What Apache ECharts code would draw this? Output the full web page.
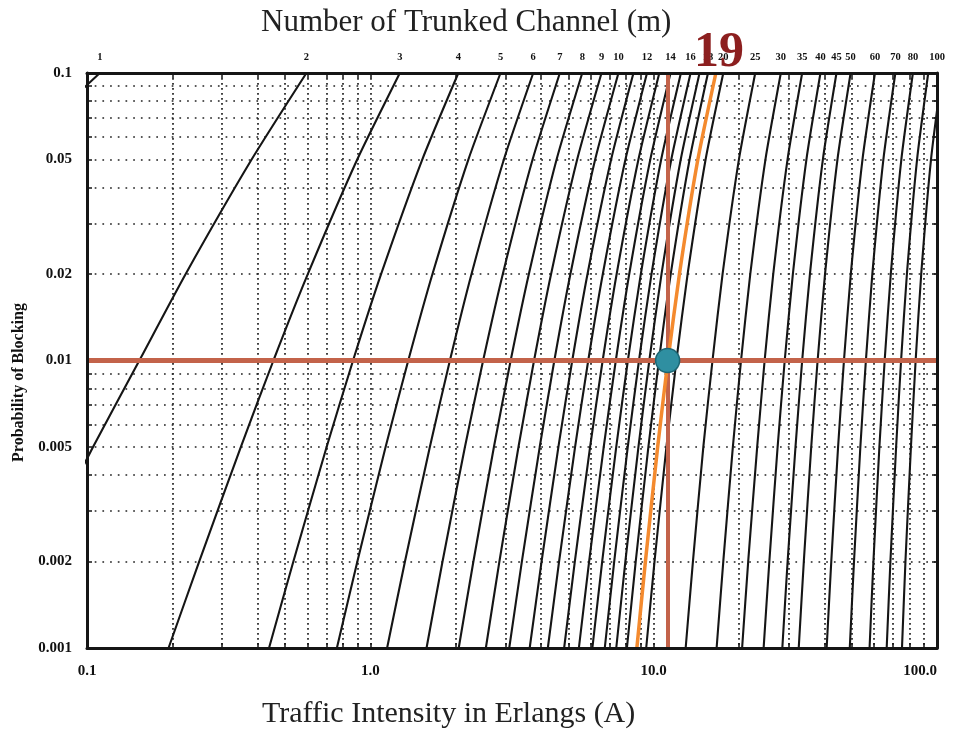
<!DOCTYPE html>
<html>
<head>
<meta charset="utf-8">
<script src="https://cdn.jsdelivr.net/npm/echarts@6/dist/echarts.min.js"></script>
<style>html,body{margin:0;padding:0;background:#fff}#c{width:953px;height:736px}</style>
</head>
<body>
<div id="c"></div>
<script>
// Blocking probabilities at which traffic values were read for every curve
const blockingProb = [0.001, 0.002, 0.005, 0.01, 0.02, 0.05, 0.1];

// Traffic intensity A (Erlangs) for each curve, read at blockingProb
const m1 = [0.001, 0.002, 0.00503, 0.0101, 0.0204, 0.0526, 0.111];
const m2 = [0.0458, 0.0653, 0.105, 0.153, 0.223, 0.381, 0.595];
const m3 = [0.194, 0.249, 0.349, 0.455, 0.602, 0.899, 1.271];
const m4 = [0.439, 0.535, 0.701, 0.869, 1.092, 1.525, 2.045];
const m5 = [0.762, 0.900, 1.132, 1.361, 1.657, 2.218, 2.881];
const m6 = [1.146, 1.325, 1.622, 1.909, 2.276, 2.960, 3.758];
const m7 = [1.579, 1.798, 2.157, 2.501, 2.935, 3.738, 4.666];
const m8 = [2.051, 2.311, 2.730, 3.128, 3.627, 4.543, 5.597];
const m9 = [2.557, 2.855, 3.333, 3.783, 4.345, 5.370, 6.546];
const m10 = [3.092, 3.427, 3.961, 4.461, 5.084, 6.216, 7.511];
const m11 = [3.651, 4.022, 4.610, 5.160, 5.842, 7.076, 8.487];
const m12 = [4.231, 4.637, 5.279, 5.876, 6.615, 7.950, 9.474];
const m13 = [4.831, 5.270, 5.964, 6.607, 7.402, 8.835, 10.47];
const m14 = [5.446, 5.919, 6.663, 7.352, 8.200, 9.730, 11.47];
const m15 = [6.077, 6.582, 7.376, 8.108, 9.010, 10.63, 12.48];
const m16 = [6.721, 7.258, 8.100, 8.875, 9.828, 11.54, 13.50];
const m17 = [7.378, 7.946, 8.834, 9.652, 10.66, 12.46, 14.52];
const m18 = [8.046, 8.644, 9.578, 10.44, 11.49, 13.39, 15.55];
const m19 = [8.724, 9.351, 10.33, 11.23, 12.33, 14.32, 16.58];
const m20 = [9.411, 10.07, 11.09, 12.03, 13.18, 15.25, 17.61];
const m25 = [12.97, 13.76, 14.97, 16.13, 17.51, 19.99, 22.83];
const m30 = [16.68, 17.61, 19.03, 20.34, 21.93, 24.80, 28.11];
const m35 = [20.52, 21.56, 23.19, 24.64, 26.43, 29.68, 33.43];
const m40 = [24.44, 25.60, 27.38, 29.01, 31.00, 34.60, 38.79];
const m45 = [28.45, 29.70, 31.66, 33.43, 35.61, 39.55, 44.18];
const m50 = [32.51, 33.88, 35.98, 37.90, 40.26, 44.53, 49.56];
const m60 = [40.79, 42.35, 44.76, 46.95, 49.64, 54.57, 60.40];
const m70 = [49.22, 50.94, 53.64, 56.11, 59.13, 64.67, 71.29];
const m80 = [57.81, 59.65, 62.61, 65.36, 68.70, 74.84, 82.21];
const m90 = [66.44, 68.48, 71.73, 74.68, 78.31, 85.04, 93.12];
const m100 = [75.24, 77.38, 80.91, 84.06, 87.97, 95.24, 104.1];

const channels = [1,2,3,4,5,6,7,8,9,10,11,12,13,14,15,16,17,18,19,20,25,30,35,40,45,50,60,70,80,90,100];
const curveTraffic = [m1,m2,m3,m4,m5,m6,m7,m8,m9,m10,m11,m12,m13,m14,m15,m16,m17,m18,m19,m20,m25,m30,m35,m40,m45,m50,m60,m70,m80,m90,m100];

// Top row of channel labels and where they sit along A
const topLabelText = ['1','2','3','4','5','6','7','8','9','10','12','14','16','18','20','25','30','35','40','45','50','60','70','80','90','100'];
const topLabelAt = [0.111,0.595,1.271,2.045,2.881,3.758,4.666,5.597,6.546,7.511,9.474,11.47,13.5,15.55,17.61,22.83,28.11,33.43,38.79,44.18,49.56,60.4,71.3,82.2,93.1,100];

// Axis tick labels
const xLabelValues = [0.1, 1, 10, 100];
const xLabelText = ['0.1', '1.0', '10.0', '100.0'];
const yLabelValues = [0.001, 0.002, 0.005, 0.01, 0.02, 0.05, 0.1];
const yLabelText = ['0.001', '0.002', '0.005', '0.01', '0.02', '0.05', '0.1'];

// Grid line positions
const gridX = [0.1,0.2,0.3,0.4,0.5,0.6,0.7,0.8,0.9,1,2,3,4,5,6,7,8,9,10,20,30,40,50,60,70,80,90,100];
const gridY = [0.001,0.002,0.003,0.004,0.005,0.006,0.007,0.008,0.009,0.01,0.02,0.03,0.04,0.05,0.06,0.07,0.08,0.09,0.1];

// Highlighted example
const highlightChannel = 19;
const operatingTraffic = 11.2;
const operatingBlocking = 0.01;

const serif = '"Liberation Serif", "DejaVu Serif", serif';
const ink = '#151515';
const orange = '#f48a2e';
const brick = '#c3634a';

function lookup(values, texts, v) {
  let best = 0, bd = Infinity;
  values.forEach((x, i) => { const d = Math.abs(Math.log10(x) - Math.log10(v)); if (d < bd) { bd = d; best = i; } });
  return texts[best];
}

const series = channels.map((m, i) => {
  const hi = m === highlightChannel;
  const s = {
    type: 'line',
    name: 'm=' + m,
    data: curveTraffic[i].map((a, j) => [a, blockingProb[j]]),
    symbol: 'none',
    smooth: 0.2,
    clip: true,
    silent: true,
    z: hi ? 6 : 2,
    lineStyle: { color: hi ? orange : ink, width: hi ? 3.5 : 2.1 }
  };
  if (hi) {
    s.markPoint = {
      symbol: 'circle', symbolSize: 0, z: 8,
      data: [{ coord: [curveTraffic[i][blockingProb.length - 1], blockingProb[blockingProb.length - 1]] }],
      label: { show: true, formatter: String(m), position: 'inside', offset: [3, -20],
        color: '#8c1f1f', fontFamily: serif, fontWeight: 'bold', fontSize: 50 }
    };
  }
  return s;
});

series.push({
  type: 'line', name: 'guides', data: [], symbol: 'none', silent: true,
  markLine: {
    symbol: ['none', 'none'], silent: true, z: 5, animation: false,
    label: { show: false },
    lineStyle: { color: brick, type: 'solid' },
    data: [
      { yAxis: operatingBlocking, lineStyle: { width: 5, color: brick, type: 'solid' } },
      { xAxis: operatingTraffic, lineStyle: { width: 4, color: brick, type: 'solid' } }
    ]
  }
});
series.push({
  type: 'scatter', name: 'point', z: 9, silent: true,
  data: [[operatingTraffic, operatingBlocking]],
  symbolSize: 24,
  itemStyle: { color: '#2f8fa1', borderColor: '#1d6572', borderWidth: 1.5, opacity: 1 }
});

// Frame-only axes drawn above the curves
const frameAxisX = pos => ({
  type: 'log', min: 0.1, max: 100, position: pos, z: 10,
  axisLine: { show: true, lineStyle: { color: ink, width: 3 } },
  axisTick: { show: false }, axisLabel: { show: false }, splitLine: { show: false }
});
const frameAxisY = pos => ({
  type: 'log', min: 0.001, max: 0.1, position: pos, z: 10,
  axisLine: { show: true, lineStyle: { color: ink, width: 3 } },
  axisTick: { show: false }, axisLabel: { show: false }, splitLine: { show: false }
});

const option = {
  animation: false,
  backgroundColor: '#ffffff',
  title: [
    { text: 'Number of Trunked Channel (m)', left: 256, top: 2,
      textStyle: { fontFamily: serif, fontWeight: 'normal', fontSize: 31, color: '#222' } },
    { text: 'Traffic Intensity in Erlangs (A)', left: 257, top: 694,
      textStyle: { fontFamily: serif, fontWeight: 'normal', fontSize: 30, color: '#222' } }
  ],
  grid: { left: 87, right: 16, top: 73, bottom: 88, show: true, borderColor: ink, borderWidth: 2, backgroundColor: 'transparent' },
  xAxis: [
    {
      type: 'log', min: 0.1, max: 100, position: 'bottom',
      axisLine: { show: true, lineStyle: { color: ink, width: 2 } },
      axisTick: { show: true, inside: true, length: 5, customValues: gridX, lineStyle: { color: ink, width: 1.5 } },
      splitLine: { show: true, lineStyle: { color: '#222', width: 1.7, type: [1.7, 3.3] } },
      axisLabel: { customValues: xLabelValues, alignMaxLabel: 'right', margin: 16,
        formatter: v => lookup(xLabelValues, xLabelText, v),
        fontFamily: serif, fontWeight: 'bold', fontSize: 15, color: '#111' }
    },
    {
      type: 'log', min: 0.1, max: 100, position: 'top',
      axisLine: { show: false },
      axisTick: { show: true, inside: true, length: 5, customValues: gridX, lineStyle: { color: ink, width: 1.5 } },
      splitLine: { show: false },
      axisLabel: { customValues: topLabelAt, margin: 10, showMinLabel: true, showMaxLabel: true, hideOverlap: false,
        formatter: v => lookup(topLabelAt, topLabelText, v),
        fontFamily: serif, fontWeight: 'bold', fontSize: 10.5, color: '#111' }
    },
    frameAxisX('bottom'),
    frameAxisX('top')
  ],
  yAxis: [
    {
      type: 'log', min: 0.001, max: 0.1, position: 'left',
      name: 'Probability of Blocking', nameLocation: 'middle', nameRotate: 90, nameGap: 58,
      nameTextStyle: { fontFamily: serif, fontWeight: 'bold', fontSize: 16, color: '#111', padding: [0, 44, 0, 0] },
      axisLine: { show: true, lineStyle: { color: ink, width: 2 } },
      axisTick: { show: true, inside: true, length: 5, customValues: gridY, lineStyle: { color: ink, width: 1.5 } },
      splitLine: { show: true, lineStyle: { color: '#222', width: 1.7, type: [1.7, 6] } },
      axisLabel: { customValues: yLabelValues, margin: 15,
        formatter: v => lookup(yLabelValues, yLabelText, v),
        fontFamily: serif, fontWeight: 'bold', fontSize: 15, color: '#111' }
    },
    {
      type: 'log', min: 0.001, max: 0.1, position: 'right',
      axisLine: { show: false },
      axisTick: { show: true, inside: true, length: 5, customValues: gridY, lineStyle: { color: ink, width: 1.5 } },
      splitLine: { show: false },
      axisLabel: { show: false }
    },
    frameAxisY('left'),
    frameAxisY('right')
  ],
  series: series
};

const chart = echarts.init(document.getElementById('c'));
chart.setOption(option);
</script>
</body>
</html>
